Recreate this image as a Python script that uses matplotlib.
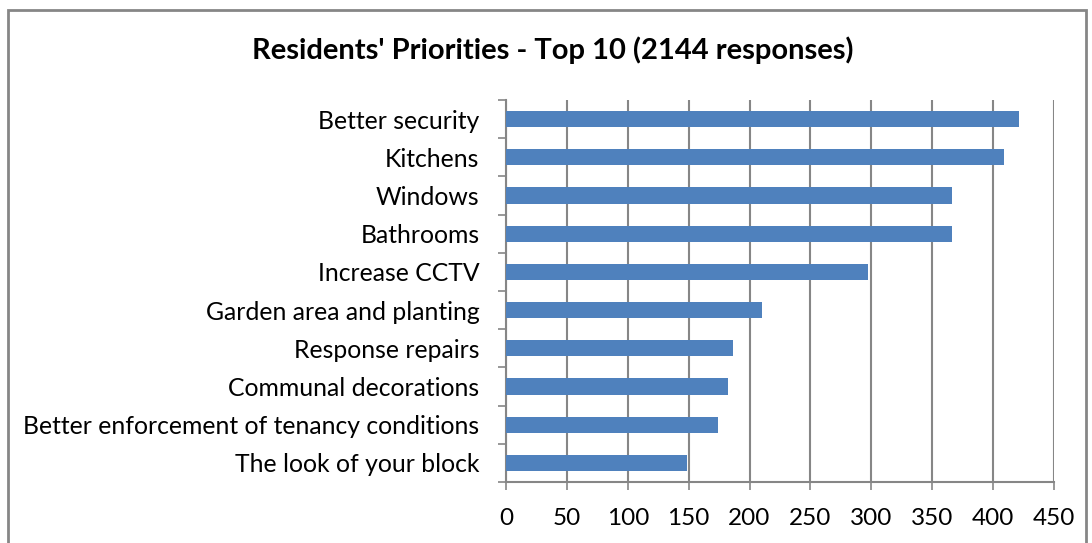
import matplotlib
matplotlib.use("Agg")
import matplotlib.pyplot as plt
from matplotlib.patches import Rectangle

categories = ["Better security", "Kitchens", "Windows", "Bathrooms", "Increase CCTV",
              "Garden area and planting", "Response repairs", "Communal decorations",
              "Better enforcement of tenancy conditions", "The look of your block"]
responses = [421, 409, 366, 366, 297, 210, 186, 182, 174, 149]
xticks = [0, 50, 100, 150, 200, 250, 300, 350, 400, 450]

plt.rcParams['font.family'] = ['Lato', 'DejaVu Sans']

W, H = 1092, 543
fig = plt.figure(figsize=(W / 100, H / 100), dpi=100)

# chart area border (Excel style)
fig.patches.append(Rectangle((8 / W, -0.1), (1086 - 8) / W, 1.1 - 10 / H,
                             transform=fig.transFigure, fill=False,
                             edgecolor='#868686', linewidth=2))

ax = fig.add_axes([506 / W, 1 - 482 / H, (1054 - 506) / W, (482 - 100) / H])

y = list(range(len(categories)))
ax.barh(y, responses, height=0.42, color='#4F81BD', zorder=3)
ax.set_ylim(len(categories) - 0.5, -0.5)
ax.set_xlim(0, 450)

ax.set_xticks(xticks)
ax.set_xticklabels([str(t) for t in xticks], fontsize=17.5)
ax.set_yticks(y)
ax.set_yticklabels(categories, fontsize=17.8)
ax.tick_params(axis='y', length=0, pad=19)
ax.tick_params(axis='x', length=6, color='#868686', width=1.2, pad=13)

# category boundary ticks on the left axis
ax.set_yticks([i - 0.5 for i in range(len(categories) + 1)], minor=True)
ax.tick_params(axis='y', which='minor', length=6, color='#868686', width=1.2)

ax.grid(axis='x', color='#868686', linewidth=1.5, zorder=0)
for s in ['top', 'right']:
    ax.spines[s].set_visible(False)
for s in ['left', 'bottom']:
    ax.spines[s].set_color('#868686')
    ax.spines[s].set_linewidth(1.5)

fig.text(553 / W, 1 - 50 / H, "Residents' Priorities - Top 10 (2144 responses)",
         ha='center', va='center', fontsize=21, fontweight='bold')

fig.savefig("out.png", dpi=100)
